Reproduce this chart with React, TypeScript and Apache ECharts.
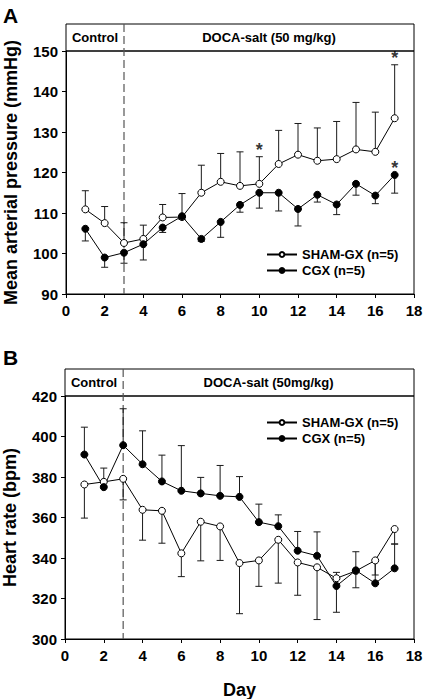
import React, { useEffect, useRef } from "react";
import * as echarts from "echarts";

const days = [1, 2, 3, 4, 5, 6, 7, 8, 9, 10, 11, 12, 13, 14, 15, 16, 17];

// Panel A: mean arterial pressure (mmHg)
const shamMAP = [110.9, 107.5, 102.6, 103.6, 108.9, 109.0, 115.0, 117.7, 116.7, 117.2, 122.1, 124.4, 122.9, 123.3, 125.7, 125.1, 133.4];
const shamMAPsd = [4.6, 4.1, 5.0, 3.4, 3.2, 5.8, 6.8, 7.0, 8.4, 6.7, 8.3, 7.7, 8.1, 9.3, 11.6, 9.8, 13.2];
const cgxMAP = [106.1, 99.0, 100.2, 102.3, 106.4, 109.2, 103.6, 107.8, 112.0, 115.0, 115.0, 111.0, 114.5, 112.1, 117.2, 114.3, 119.4];
const cgxMAPsd = [3.0, 2.4, 2.6, 3.9, 1.2, 0.8, 0.6, 3.8, 1.8, 3.8, 4.5, 4.2, 1.8, 2.5, 2.8, 2.0, 4.5];
const sigShamMAP = [10, 17];
const sigCgxMAP = [17];

// Panel B: heart rate (bpm)
const shamHR = [376.3, 377.6, 379.1, 363.8, 363.3, 342.3, 357.9, 355.6, 337.5, 338.8, 349.0, 337.8, 335.4, 330.0, 333.6, 338.8, 354.3];
const shamHRsd = [16.6, 2.0, 10.4, 15.0, 16.0, 11.5, 19.3, 16.8, 25.0, 12.8, 21.4, 16.2, 25.8, 16.8, 8.3, 7.2, 7.4];
const cgxHR = [391.1, 375.0, 395.7, 386.3, 377.8, 373.2, 371.9, 370.7, 370.2, 357.7, 355.7, 343.6, 341.1, 326.2, 333.9, 327.5, 334.9];
const cgxHRsd = [13.5, 9.4, 18.0, 16.5, 13.0, 22.3, 7.9, 15.0, 10.0, 8.9, 5.6, 9.5, 11.8, 6.7, 9.2, 11.3, 12.0];

const SHAM_NAME = "SHAM-GX (n=5)";
const CGX_NAME = "CGX (n=5)";
const treatmentDay = 3;
const FONT = "'Liberation Sans', Arial, Helvetica, sans-serif";

const errData = (mean: number[], sd: number[], dir: number) =>
  days.map((d, i) => [d, mean[i], mean[i] + dir * sd[i]]);

const errSeries = (data: number[][], idx: number) => ({
  type: "custom",
  xAxisIndex: idx,
  yAxisIndex: idx,
  coordinateSystem: "cartesian2d",
  encode: { x: 0, y: [1, 2] },
  z: 1,
  silent: true,
  data,
  renderItem: (params: any, api: any) => {
    const x = api.value(0);
    const p0 = api.coord([x, api.value(1)]);
    const p1 = api.coord([x, api.value(2)]);
    const st = { stroke: "#1a1a1a", lineWidth: 1 };
    return {
      type: "group",
      children: [
        { type: "line", shape: { x1: p0[0], y1: p0[1], x2: p1[0], y2: p1[1] }, style: st },
        { type: "line", shape: { x1: p1[0] - 3.5, y1: p1[1], x2: p1[0] + 3.5, y2: p1[1] }, style: st },
      ],
    };
  },
});

const lineSeries = (name: string, vals: number[], idx: number, filled: boolean) => ({
  type: "line",
  name,
  xAxisIndex: idx,
  yAxisIndex: idx,
  data: days.map((d, i) => [d, vals[i]]),
  symbol: "circle",
  symbolSize: 7,
  z: 3,
  lineStyle: { color: "#000", width: 1 },
  itemStyle: { color: filled ? "#000" : "#fff", borderColor: "#000", borderWidth: 1 },
});

const axisText = { color: "#000", fontWeight: "bold" as const, fontSize: 15, fontFamily: FONT };

export default function App() {
  const ref = useRef<HTMLDivElement>(null);
  useEffect(() => {
    document.body.style.margin = "0";
    const chart = echarts.init(ref.current!, null, { renderer: "svg" });
    const grids = [
      { left: 66, top: 51, width: 348, height: 243 },
      { left: 65, top: 396, width: 349, height: 243 },
    ];
    const xAxisBase = (idx: number, name: string) => ({
      type: "value",
      gridIndex: idx,
      min: 0,
      max: 18,
      interval: 2,
      name,
      nameLocation: "middle",
      nameGap: 42,
      nameTextStyle: { ...axisText, fontSize: 18 },
      axisLine: { lineStyle: { color: "#000", width: 1 } },
      axisTick: { inside: false, length: 4, lineStyle: { color: "#000" } },
      axisLabel: { ...axisText, margin: 9 },
      splitLine: { show: false },
    });
    const yAxisBase = (idx: number, min: number, max: number, interval: number, name: string) => ({
      type: "value",
      gridIndex: idx,
      min,
      max,
      interval,
      name,
      nameLocation: "middle",
      nameGap: 46,
      nameRotate: 90,
      nameTextStyle: { ...axisText, fontSize: 18 },
      axisLine: { show: true, lineStyle: { color: "#000", width: 1 } },
      axisTick: { show: true, inside: false, length: 4, lineStyle: { color: "#000" } },
      axisLabel: { ...axisText, margin: 8 },
      splitLine: { show: false },
    });
    const sigData = (sig: number[], mean: number[], sd: number[] | null) =>
      sig.map((d) => {
        const i = days.indexOf(d);
        return [d, mean[i] + (sd ? sd[i] : 0)];
      });
    const starSeries = (data: number[][]) => ({
      type: "scatter",
      xAxisIndex: 0,
      yAxisIndex: 0,
      symbolSize: 1,
      itemStyle: { color: "rgba(0,0,0,0)" },
      z: 4,
      silent: true,
      data,
      label: {
        show: true,
        formatter: "*",
        position: "top",
        distance: -3,
        color: "#000",
        fontSize: 18,
        fontWeight: "bold",
        fontFamily: FONT,
      },
    });
    const legendBase = (top: number) => ({
      orient: "vertical",
      left: 261,
      top,
      itemWidth: 30,
      itemHeight: 6,
      itemGap: 3,
      data: [SHAM_NAME, CGX_NAME],
      textStyle: { color: "#000", fontWeight: "bold", fontSize: 13, fontFamily: FONT },
      selectedMode: false,
    });
    chart.setOption({
      animation: false,
      backgroundColor: "#fff",
      grid: grids.map((g) => ({
        ...g,
        show: true,
        borderColor: "#000",
        borderWidth: 1,
        backgroundColor: "transparent",
        containLabel: false,
        outerBoundsMode: "none",
      })),
      legend: [legendBase(243), legendBase(411)],
      xAxis: [xAxisBase(0, ""), xAxisBase(1, "Day")],
      yAxis: [
        yAxisBase(0, 90, 150, 10, "Mean arterial pressure (mmHg)"),
        yAxisBase(1, 300, 420, 20, "Heart rate (bpm)"),
      ],
      series: [
        errSeries(errData(shamMAP, shamMAPsd, 1), 0),
        errSeries(errData(cgxMAP, cgxMAPsd, -1), 0),
        lineSeries(SHAM_NAME, shamMAP, 0, false),
        lineSeries(CGX_NAME, cgxMAP, 0, true),
        starSeries(sigData(sigShamMAP, shamMAP, shamMAPsd)),
        starSeries(sigData(sigCgxMAP, cgxMAP, null)),
        errSeries(errData(shamHR, shamHRsd, -1), 1),
        errSeries(errData(cgxHR, cgxHRsd, 1), 1),
        lineSeries(SHAM_NAME, shamHR, 1, false),
        lineSeries(CGX_NAME, cgxHR, 1, true),
      ],
    });

    const headerH = 27;
    const headers = [
      { idx: 0, label: "DOCA-salt (50 mg/kg)", panel: "A" },
      { idx: 1, label: "DOCA-salt (50mg/kg)", panel: "B" },
    ];
    const graphics: any[] = [];
    headers.forEach((h) => {
      const g = grids[h.idx];
      const xl = g.left;
      const xr = g.left + g.width;
      const top = g.top - headerH;
      const bottom = g.top + g.height;
      const x3 = chart.convertToPixel({ xAxisIndex: h.idx }, treatmentDay) as number;
      graphics.push(
        {
          type: "rect",
          shape: { x: xl, y: top, width: xr - xl, height: headerH },
          style: { fill: "none", stroke: "#000", lineWidth: 1 },
          silent: true,
        },
        {
          type: "line",
          shape: { x1: x3, y1: top, x2: x3, y2: bottom },
          style: { stroke: "#555", lineWidth: 1.2, lineDash: [8, 4] },
          silent: true,
        },
        {
          type: "text",
          x: (xl + x3) / 2,
          y: top + headerH / 2,
          style: { text: "Control", fill: "#000", font: `bold 13px ${FONT}`, align: "center", verticalAlign: "middle" },
          silent: true,
        },
        {
          type: "text",
          x: (x3 + xr) / 2,
          y: top + headerH / 2,
          style: { text: h.label, fill: "#000", font: `bold 13px ${FONT}`, align: "center", verticalAlign: "middle" },
          silent: true,
        },
        {
          type: "text",
          x: 3,
          y: h.idx === 0 ? 5 : 347,
          style: { text: h.panel, fill: "#000", font: `bold 21px ${FONT}`, align: "left", verticalAlign: "top" },
          silent: true,
        }
      );
    });
    chart.setOption({ graphic: graphics });
    return () => chart.dispose();
  }, []);
  return <div ref={ref} style={{ width: 425, height: 699 }} />;
}
